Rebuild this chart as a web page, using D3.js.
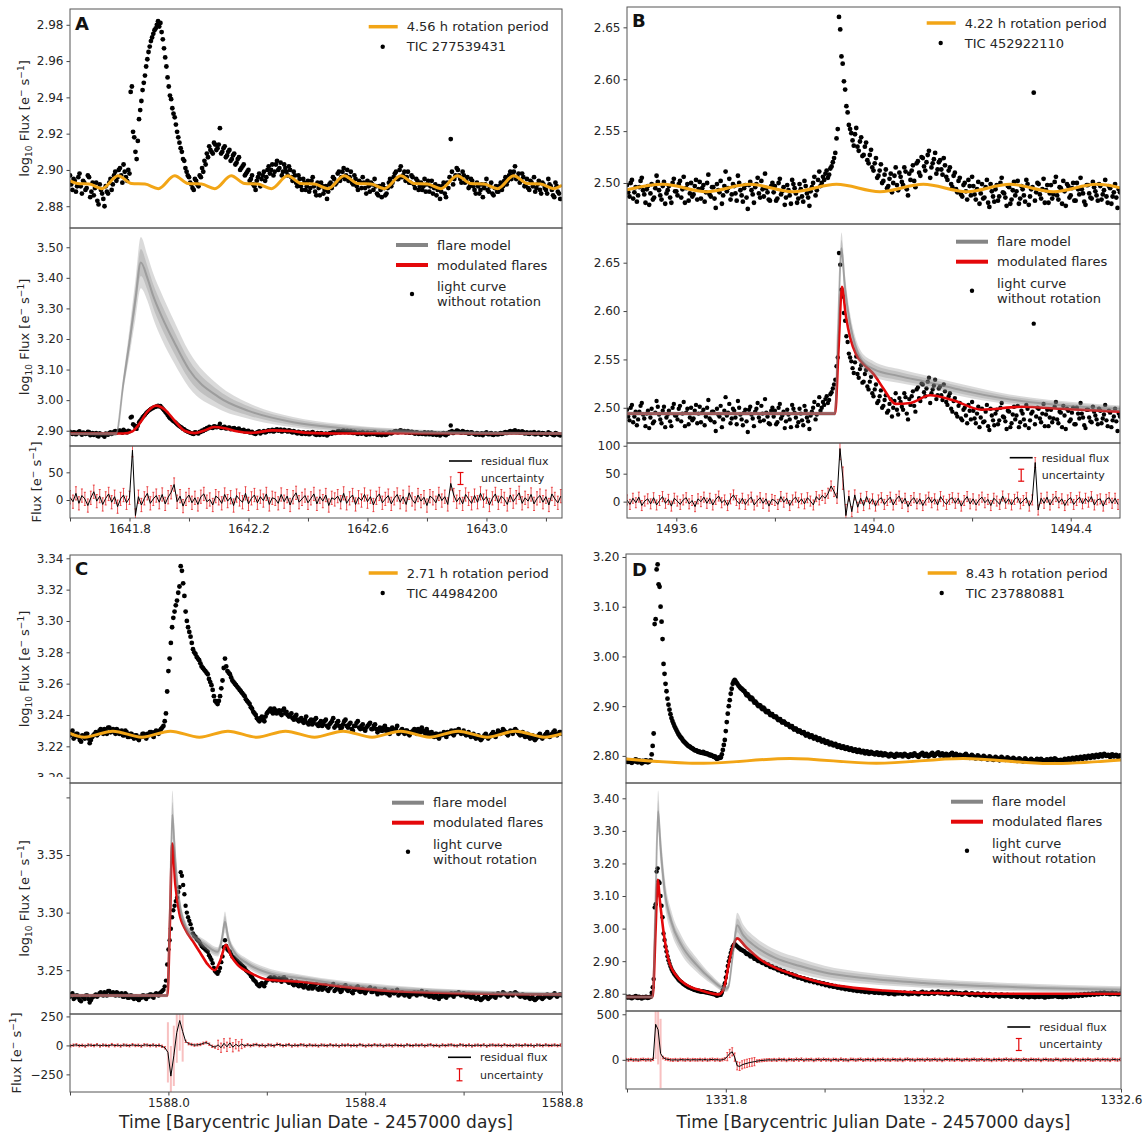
<!DOCTYPE html>
<html>
<head>
<meta charset="utf-8">
<script src="https://cdn.jsdelivr.net/npm/d3@7"></script>
<style>
  body { margin: 0; background: #fff; }
  svg text { font-family: "DejaVu Sans", Verdana, sans-serif; fill: #262626; }
  .tick text { font-size: 12px; }
  .leg { font-size: 13px; }
  .legs { font-size: 11px; }
  .ylab { font-size: 13px; }
</style>
</head>
<body>
<script>
var W = 1146, H = 1135;
var ORANGE = "#f2a516", RED = "#e4080a", GRAY = "#858585";

var letters = ["A", "B", "C", "D"];
var periods = ["4.56", "4.22", "2.71", "8.43"];
var tics = ["277539431", "452922110", "44984200", "237880881"];

// ---------- A : TIC 277539431 ----------
var t0A = 1641.600, cadA = 0.008;
var fluxA = [
  2.897, 2.889, 2.894, 2.891, 2.898, 2.887, 2.893, 2.890, 2.896, 2.888,
  2.886, 2.893, 2.881, 2.889, 2.884, 2.891, 2.887, 2.895, 2.892, 2.899,
  2.896, 2.901, 2.893, 2.899, 2.894, 2.898, 2.946, 2.918, 2.906, 2.928,
  2.938, 2.948, 2.957, 2.965, 2.971, 2.975, 2.978, 2.982, 2.981, 2.972,
  2.962, 2.951, 2.941, 2.934, 2.929, 2.921, 2.915, 2.910, 2.905, 2.899,
  2.896, 2.892, 2.889, 2.894, 2.891, 2.896, 2.899, 2.903, 2.907, 2.911,
  2.909, 2.914, 2.912, 2.923, 2.910, 2.913, 2.908, 2.911, 2.906, 2.909,
  2.904, 2.907, 2.901, 2.903, 2.898, 2.900, 2.895, 2.892, 2.889, 2.896,
  2.891, 2.897, 2.894, 2.900, 2.898, 2.903, 2.899, 2.905, 2.901, 2.897,
  2.903, 2.899, 2.902, 2.896, 2.899, 2.893, 2.897, 2.891, 2.895, 2.889,
  2.894, 2.890, 2.896, 2.888, 2.893, 2.886, 2.891, 2.889, 2.884, 2.892,
  2.890, 2.895, 2.893, 2.899, 2.896, 2.901, 2.897, 2.894, 2.899, 2.892,
  2.895, 2.889, 2.893, 2.896, 2.890, 2.894, 2.888, 2.892, 2.895, 2.887,
  2.891, 2.885, 2.890, 2.887, 2.893, 2.891, 2.896, 2.899, 2.895, 2.902,
  2.897, 2.894, 2.899, 2.893, 2.896, 2.890, 2.894, 2.891, 2.889, 2.895,
  2.892, 2.888, 2.894, 2.890, 2.886, 2.891, 2.888, 2.893, 2.885, 2.890,
  2.917, 2.892, 2.897, 2.900, 2.895, 2.899, 2.893, 2.896, 2.891, 2.894,
  2.889, 2.893, 2.887, 2.892, 2.890, 2.895, 2.888, 2.893, 2.886, 2.891,
  2.888, 2.893, 2.891, 2.896, 2.894, 2.899, 2.897, 2.902, 2.896, 2.893,
  2.898, 2.891, 2.895, 2.889, 2.893, 2.896, 2.890, 2.894, 2.887, 2.892,
  2.889, 2.895, 2.891, 2.886, 2.893, 2.888, 2.884
];
// readings in between, half a cadence later
var t0A2 = 1641.604;
var fluxA2 = [
  2.892, 2.895, 2.888, 2.896, 2.891, 2.894, 2.889, 2.897, 2.885, 2.893,
  2.890, 2.883, 2.892, 2.887, 2.880, 2.888, 2.893, 2.889, 2.897, 2.894,
  2.900, 2.897, 2.903, 2.896, 2.900, 2.943, 2.921, 2.910, 2.916, 2.933,
  2.944, 2.952, 2.961, 2.968, 2.973, 2.977, 2.980, 2.979, 2.976, 2.967,
  2.957, 2.946, 2.939, 2.931, 2.925, 2.918, 2.912, 2.906, 2.901, 2.897,
  2.893, 2.890, 2.895, 2.892, 2.897, 2.901, 2.905, 2.909, 2.913, 2.910,
  2.915, 2.911, 2.914, 2.909, 2.912, 2.907, 2.910, 2.905, 2.908, 2.903,
  2.906, 2.900, 2.902, 2.897, 2.899, 2.894, 2.897, 2.891, 2.894, 2.898,
  2.895, 2.899, 2.896, 2.902, 2.900, 2.897, 2.903, 2.900, 2.904, 2.899,
  2.901, 2.897, 2.900, 2.894, 2.897, 2.891, 2.895, 2.889, 2.893, 2.891,
  2.888, 2.894, 2.891, 2.886, 2.890, 2.893, 2.887, 2.891, 2.888, 2.893,
  2.896, 2.892, 2.898, 2.894, 2.899, 2.895, 2.900, 2.896, 2.893, 2.897,
  2.891, 2.894, 2.890, 2.893, 2.887, 2.891, 2.893, 2.889, 2.891, 2.886,
  2.889, 2.892, 2.886, 2.890, 2.895, 2.893, 2.898, 2.895, 2.900, 2.896,
  2.899, 2.896, 2.893, 2.897, 2.892, 2.895, 2.889, 2.893, 2.891, 2.888,
  2.894, 2.891, 2.887, 2.892, 2.889, 2.884, 2.891, 2.887, 2.893, 2.896,
  2.899, 2.895, 2.901, 2.897, 2.893, 2.897, 2.894, 2.890, 2.895, 2.891,
  2.887, 2.891, 2.889, 2.885, 2.892, 2.889, 2.891, 2.887, 2.890, 2.888,
  2.891, 2.889, 2.894, 2.892, 2.897, 2.895, 2.899, 2.895, 2.898, 2.894,
  2.896, 2.892, 2.890, 2.894, 2.891, 2.888, 2.892, 2.889, 2.893, 2.890,
  2.887, 2.892, 2.889, 2.885, 2.891, 2.887
];
var orangeTA = [1641.600, 1641.625, 1641.665, 1641.707, 1641.762, 1641.807, 1641.852, 1641.897,
  1641.952, 1641.997, 1642.042, 1642.087, 1642.142, 1642.187, 1642.232, 1642.277,
  1642.332, 1642.377, 1642.422, 1642.467, 1642.522, 1642.567, 1642.612, 1642.657,
  1642.712, 1642.757, 1642.802, 1642.847, 1642.902, 1642.947, 1642.992, 1643.037,
  1643.092, 1643.137, 1643.182, 1643.227, 1643.254];
var orangeA = [2.8940, 2.8925, 2.8922, 2.8897, 2.8968, 2.8925, 2.8922, 2.8897,
  2.8968, 2.8925, 2.8922, 2.8897, 2.8968, 2.8925, 2.8922, 2.8897,
  2.8968, 2.8925, 2.8922, 2.8897, 2.8968, 2.8925, 2.8922, 2.8897,
  2.8968, 2.8925, 2.8922, 2.8897, 2.8968, 2.8925, 2.8922, 2.8897,
  2.8968, 2.8925, 2.8922, 2.8897, 2.8915];
var grayTA = [1641.60, 1641.755, 1641.78, 1641.80, 1641.82, 1641.838, 1641.86, 1641.88, 1641.91,
  1641.95, 1642.00, 1642.10, 1642.20, 1642.35, 1642.50, 1642.70, 1642.90, 1643.254];
var grayA = [2.890, 2.890, 3.06, 3.19, 3.33, 3.45, 3.40, 3.34, 3.27,
  3.19, 3.10, 3.01, 2.965, 2.928, 2.910, 2.898, 2.893, 2.891];
var grayWA = [0.0005, 0.003, 0.02, 0.04, 0.06, 0.08, 0.07, 0.07, 0.07,
  0.065, 0.055, 0.035, 0.022, 0.013, 0.009, 0.005, 0.002, 0.001];
var redTA = [1641.60, 1641.78, 1641.81, 1641.835, 1641.86, 1641.89, 1641.92, 1641.95, 1641.985,
  1642.02, 1642.05, 1642.085, 1642.12, 1642.16, 1642.21, 1642.28, 1642.34, 1642.40,
  1642.50, 1642.70, 1643.00, 1643.254];
var redA = [2.891, 2.891, 2.898, 2.925, 2.962, 2.982, 2.968, 2.935, 2.900,
  2.892, 2.900, 2.912, 2.908, 2.898, 2.893, 2.901, 2.899, 2.893,
  2.891, 2.892, 2.891, 2.891];
var resT0A = 1641.60, resCadA = 0.01, errA = 12;
var residA = [
  5, -3, 12, -6, 8, 2, -10, 4, 15, -2,
  7, -8, 3, 11, -4, 6, -12, 2, 9, -5,
  4, 90, -28, 6, -9, 3, 12, -6, 2, 8,
  -4, 10, -7, 5, 14, 28, -3, 7, -11, 2,
  9, -5, 4, -8, 6, 11, -3, 1, -9, 7,
  3, -6, 10, -2, 5, -10, 8, 1, -4, 12,
  -7, 3, 9, -5, 6, -1, 11, -8, 4, 2,
  -6, 10, -3, 7, -9, 5, 13, -4, 2, 8,
  -5, 3, 11, -7, 6, -2, 9, -10, 4, 1,
  7, -4, 12, -6, 3, 9, -8, 5, -1, 10,
  -3, 6, -9, 4, 11, -5, 2, 8, -7, 3,
  10, -4, 6, -8, 13, 1, -6, 9, -2, 5,
  -10, 7, 3, -5, 11, -1, 6, -8, 30, 9,
  -3, 5, -7, 10, 2, -6, 8, -4, 12, -1,
  6, -9, 3, 11, -5, 7, 2, -8, 9, -3,
  5, 13, -6, 4, -2, 10, -7, 3, 8, -4,
  6, -9, 11, 2, -5, 7
];
var errSpansA = [];

// ---------- B : TIC 452922110 ----------
var t0B = 1493.500, cadB = 0.005;
var fluxB = [
  2.498, 2.487, 2.503, 2.491, 2.482, 2.496, 2.505, 2.489, 2.494, 2.479,
  2.499, 2.486, 2.507, 2.493, 2.484, 2.501, 2.490, 2.497, 2.481, 2.504,
  2.492, 2.499, 2.486, 2.506, 2.495, 2.483, 2.500, 2.489, 2.503, 2.494,
  2.485, 2.498, 2.491, 2.508, 2.487, 2.496, 2.476, 2.493, 2.502, 2.488,
  2.511, 2.495, 2.484, 2.499, 2.490, 2.507, 2.493, 2.482, 2.498, 2.475,
  2.501, 2.489, 2.496, 2.505, 2.486, 2.494, 2.509, 2.491, 2.483, 2.500,
  2.497, 2.485, 2.504, 2.492, 2.479, 2.498, 2.488, 2.503, 2.495, 2.481,
  2.499, 2.487, 2.502, 2.490, 2.478, 2.496, 2.506, 2.493, 2.511, 2.500,
  2.503, 2.512, 2.508, 2.516, 2.524, 2.543, 2.660, 2.622, 2.598, 2.574,
  2.556, 2.548, 2.536, 2.553, 2.531, 2.544, 2.527, 2.539, 2.519, 2.532,
  2.512, 2.524, 2.507, 2.518, 2.502, 2.513, 2.497, 2.509, 2.500, 2.515,
  2.493, 2.506, 2.498, 2.511, 2.488, 2.503, 2.517, 2.496, 2.521, 2.507,
  2.524, 2.512, 2.527, 2.505, 2.519, 2.529, 2.513, 2.522, 2.508, 2.517,
  2.503, 2.515, 2.496, 2.510, 2.491, 2.505, 2.487, 2.500, 2.484, 2.497,
  2.506, 2.489, 2.494, 2.480, 2.499, 2.486, 2.503, 2.477, 2.492, 2.482,
  2.498, 2.487, 2.505, 2.490, 2.478, 2.496, 2.484, 2.501, 2.492, 2.480,
  2.497, 2.488, 2.503, 2.479, 2.494, 2.587, 2.491, 2.499, 2.485, 2.504,
  2.493, 2.481, 2.498, 2.489, 2.506, 2.484, 2.495, 2.502, 2.478, 2.497,
  2.488, 2.500, 2.483, 2.494, 2.505, 2.490, 2.479, 2.498, 2.486, 2.501,
  2.492, 2.483, 2.497, 2.489, 2.503, 2.481, 2.495, 2.487, 2.499, 2.476, 2.491
];
var t0B2 = 1493.5025;
var fluxB2 = [
  2.491, 2.500, 2.485, 2.496, 2.488, 2.502, 2.493, 2.481, 2.497, 2.490,
  2.484, 2.495, 2.501, 2.488, 2.497, 2.480, 2.493, 2.486, 2.500, 2.492,
  2.488, 2.502, 2.494, 2.481, 2.499, 2.490, 2.487, 2.497, 2.484, 2.501,
  2.495, 2.482, 2.500, 2.489, 2.496, 2.485, 2.499, 2.491, 2.480, 2.497,
  2.492, 2.504, 2.489, 2.497, 2.483, 2.500, 2.488, 2.495, 2.486, 2.498,
  2.493, 2.481, 2.499, 2.490, 2.502, 2.487, 2.495, 2.484, 2.497, 2.491,
  2.483, 2.500, 2.489, 2.496, 2.486, 2.493, 2.480, 2.499, 2.490, 2.485,
  2.494, 2.482, 2.497, 2.486, 2.492, 2.500, 2.488, 2.503, 2.497, 2.506,
  2.509, 2.505, 2.514, 2.520, 2.529, 2.552, 2.648, 2.615, 2.590, 2.568,
  2.552, 2.541, 2.547, 2.535, 2.540, 2.526, 2.535, 2.522, 2.527, 2.515,
  2.519, 2.505, 2.512, 2.500, 2.508, 2.495, 2.504, 2.491, 2.507, 2.498,
  2.510, 2.501, 2.515, 2.494, 2.509, 2.512, 2.502, 2.519, 2.510, 2.525,
  2.516, 2.520, 2.531, 2.515, 2.523, 2.509, 2.520, 2.513, 2.524, 2.506,
  2.512, 2.499, 2.507, 2.494, 2.502, 2.489, 2.498, 2.492, 2.503, 2.488,
  2.497, 2.484, 2.501, 2.490, 2.485, 2.496, 2.481, 2.499, 2.487, 2.494,
  2.483, 2.500, 2.491, 2.486, 2.497, 2.480, 2.493, 2.488, 2.502, 2.485,
  2.494, 2.482, 2.499, 2.487, 2.496, 2.483, 2.500, 2.489, 2.494, 2.481,
  2.498, 2.490, 2.485, 2.501, 2.488, 2.496, 2.480, 2.492, 2.499, 2.486,
  2.495, 2.483, 2.500, 2.489, 2.494, 2.482, 2.498, 2.490, 2.485, 2.496,
  2.488, 2.499, 2.484, 2.493, 2.487, 2.497, 2.480, 2.491, 2.486, 2.494
];
var orangeTB = [1493.50, 1493.573, 1493.661, 1493.749, 1493.837, 1493.925, 1494.013,
  1494.101, 1494.189, 1494.277, 1494.365, 1494.453, 1494.50];
var orangeB = [2.4935, 2.4987, 2.4916, 2.4987, 2.4916, 2.4987, 2.4916,
  2.4987, 2.4916, 2.4987, 2.4916, 2.4987, 2.4955];
var grayTB = [1493.50, 1493.922, 1493.928, 1493.935, 1493.942, 1493.952, 1493.962, 1493.975,
  1494.00, 1494.05, 1494.115, 1494.18, 1494.26, 1494.42, 1494.50];
var grayB = [2.494, 2.494, 2.580, 2.665, 2.625, 2.588, 2.566, 2.550,
  2.540, 2.533, 2.526, 2.518, 2.510, 2.501, 2.499];
var grayWB = [0.001, 0.001, 0.012, 0.015, 0.012, 0.010, 0.008, 0.007,
  0.007, 0.006, 0.005, 0.005, 0.004, 0.003, 0.002];
var redTB = [1493.50, 1493.922, 1493.929, 1493.936, 1493.944, 1493.953, 1493.965, 1493.98,
  1494.00, 1494.02, 1494.045, 1494.075, 1494.115, 1494.16, 1494.22, 1494.30, 1494.38, 1494.50];
var redB = [2.494, 2.494, 2.560, 2.625, 2.595, 2.572, 2.555, 2.545,
  2.535, 2.520, 2.504, 2.505, 2.513, 2.508, 2.498, 2.501, 2.499, 2.496];
var resT0B = 1493.50, resCadB = 0.006, errB = 9;
var residB = [
  3, -5, 6, -2, 8, -7, 1, 5, -4, 7,
  -6, 2, 9, -3, 4, -8, 6, 1, -5, 3,
  7, -4, 2, -9, 5, 0, 8, -3, 6, -6,
  4, 10, -2, 3, -7, 5, 12, 2, -4, 6,
  -5, 3, 8, -6, 1, 7, -3, 5, -8, 4,
  2, -5, 9, -1, 6, -7, 3, 8, -2, 5,
  -4, 7, 1, -6, 9, 3, 11, 6, 15, 28,
  18, 6, 95, 42, -25, 10, -18, 12, -10, 6,
  -7, 9, -4, 5, -8, 3, 7, -5, 2, 8,
  -6, 4, 10, -3, 6, -9, 2, 7, -4, 5,
  -7, 3, 8, -2, 5, -6, 9, 1, -5, 4,
  7, -3, 6, -8, 2, 9, -4, 5, -6, 3,
  8, -2, 4, -7, 6, 1, -5, 10, -3, 5,
  -6, 4, 8, -4, 2, 7, -8, 3, 70, -15,
  6, -3, 8, -6, 4, 9, -2, 5, -7, 3,
  7, -5, 2, 8, -4, 6, -1, 9, -6, 3,
  5, -8, 4, 7, -3, 6, -5
];
var errSpansB = [[1493.928, 1493.945, 20]];

// ---------- C : TIC 44984200 ----------
var t0C = 1587.795, cadC = 0.005;
var fluxC = [
  3.229, 3.227, 3.230, 3.226, 3.228, 3.224, 3.227, 3.225, 3.228, 3.222,
  3.226, 3.228, 3.227, 3.230, 3.229, 3.231, 3.228, 3.232, 3.230, 3.229,
  3.231, 3.228, 3.230, 3.227, 3.229, 3.226, 3.228, 3.225, 3.227, 3.224,
  3.226, 3.228, 3.225, 3.227, 3.229, 3.226, 3.230, 3.228, 3.231, 3.233,
  3.241, 3.268, 3.286, 3.302, 3.310, 3.318, 3.335, 3.324, 3.306, 3.296,
  3.290, 3.282, 3.279, 3.276, 3.273, 3.270, 3.268, 3.266, 3.261, 3.256,
  3.249, 3.247, 3.252, 3.262, 3.276, 3.268, 3.266, 3.262, 3.260, 3.258,
  3.256, 3.254, 3.252, 3.249, 3.247, 3.244, 3.241, 3.238, 3.236, 3.239,
  3.236, 3.241, 3.243, 3.242, 3.244, 3.241, 3.243, 3.240, 3.244, 3.242,
  3.239, 3.241, 3.237, 3.240, 3.236, 3.238, 3.235, 3.239, 3.234, 3.237,
  3.235, 3.238, 3.233, 3.236, 3.234, 3.237, 3.232, 3.235, 3.238, 3.233,
  3.236, 3.231, 3.234, 3.237, 3.232, 3.235, 3.230, 3.233, 3.236, 3.231,
  3.234, 3.230, 3.233, 3.235, 3.231, 3.234, 3.229, 3.232, 3.230, 3.233,
  3.231, 3.228, 3.232, 3.230, 3.233, 3.229, 3.231, 3.228, 3.230, 3.227,
  3.229, 3.231, 3.228, 3.230, 3.232, 3.229, 3.231, 3.227, 3.229, 3.226,
  3.228, 3.225, 3.227, 3.229, 3.226, 3.228, 3.230, 3.227, 3.229, 3.231,
  3.228, 3.230, 3.227, 3.229, 3.226, 3.228, 3.225, 3.227, 3.224, 3.226,
  3.228, 3.225, 3.227, 3.229, 3.226, 3.230, 3.228, 3.231, 3.229, 3.227,
  3.230, 3.228, 3.231, 3.229, 3.227, 3.229, 3.226, 3.228, 3.225, 3.227,
  3.224, 3.226, 3.228, 3.225, 3.227, 3.229, 3.226, 3.228, 3.230, 3.227,
  3.229, 3.228
];
var t0C2 = 1587.7975;
var fluxC2 = [
  3.227, 3.229, 3.225, 3.228, 3.226, 3.223, 3.226, 3.228, 3.225, 3.224,
  3.227, 3.229, 3.228, 3.231, 3.228, 3.230, 3.232, 3.229, 3.231, 3.228,
  3.230, 3.229, 3.227, 3.230, 3.226, 3.228, 3.226, 3.227, 3.225, 3.226,
  3.228, 3.226, 3.228, 3.229, 3.227, 3.229, 3.229, 3.230, 3.232, 3.236,
  3.255, 3.276, 3.296, 3.306, 3.313, 3.322, 3.332, 3.316, 3.300, 3.293,
  3.286, 3.280, 3.277, 3.275, 3.271, 3.269, 3.267, 3.263, 3.259, 3.252,
  3.248, 3.249, 3.257, 3.270, 3.271, 3.267, 3.264, 3.261, 3.259, 3.257,
  3.255, 3.253, 3.250, 3.248, 3.245, 3.242, 3.240, 3.237, 3.238, 3.237,
  3.239, 3.242, 3.244, 3.241, 3.243, 3.242, 3.241, 3.243, 3.241, 3.240,
  3.240, 3.238, 3.239, 3.237, 3.237, 3.236, 3.237, 3.235, 3.236, 3.234,
  3.237, 3.234, 3.235, 3.233, 3.236, 3.233, 3.234, 3.236, 3.232, 3.235,
  3.233, 3.232, 3.236, 3.233, 3.234, 3.231, 3.233, 3.235, 3.232, 3.233,
  3.231, 3.232, 3.234, 3.231, 3.233, 3.231, 3.231, 3.230, 3.232, 3.230,
  3.229, 3.231, 3.230, 3.231, 3.228, 3.230, 3.229, 3.230, 3.228, 3.229,
  3.230, 3.229, 3.231, 3.229, 3.230, 3.228, 3.229, 3.228, 3.227, 3.228,
  3.226, 3.228, 3.228, 3.227, 3.229, 3.229, 3.228, 3.230, 3.230, 3.229,
  3.229, 3.228, 3.228, 3.227, 3.227, 3.226, 3.226, 3.225, 3.225, 3.227,
  3.226, 3.226, 3.228, 3.227, 3.228, 3.229, 3.229, 3.230, 3.228, 3.229,
  3.229, 3.230, 3.230, 3.228, 3.228, 3.227, 3.227, 3.226, 3.226, 3.225,
  3.225, 3.227, 3.226, 3.226, 3.228, 3.227, 3.227, 3.229, 3.228, 3.228,
  3.229
];
var orangeTC = [1587.795, 1587.829, 1587.887, 1587.946, 1588.004, 1588.063, 1588.121, 1588.180,
  1588.238, 1588.297, 1588.355, 1588.414, 1588.472, 1588.531, 1588.589, 1588.648,
  1588.706, 1588.765, 1588.800];
var orangeC = [3.2290, 3.2258, 3.2297, 3.2258, 3.2297, 3.2258, 3.2297, 3.2258,
  3.2297, 3.2258, 3.2297, 3.2258, 3.2297, 3.2258, 3.2297, 3.2258,
  3.2297, 3.2258, 3.2280];
var grayTC = [1587.795, 1587.998, 1588.003, 1588.008, 1588.014, 1588.022, 1588.035, 1588.05,
  1588.075, 1588.10, 1588.108, 1588.115, 1588.122, 1588.135, 1588.16, 1588.20, 1588.27,
  1588.35, 1588.45, 1588.60, 1588.80];
var grayC = [3.228, 3.228, 3.300, 3.385, 3.345, 3.310, 3.288, 3.280,
  3.272, 3.266, 3.275, 3.292, 3.277, 3.265, 3.256, 3.248, 3.243,
  3.238, 3.234, 3.231, 3.229];
var grayWC = [0.0005, 0.0005, 0.015, 0.020, 0.015, 0.008, 0.004, 0.003,
  0.003, 0.003, 0.005, 0.008, 0.005, 0.003, 0.003, 0.003, 0.002,
  0.002, 0.002, 0.001, 0.001];
var redTC = [1587.795, 1587.998, 1588.003, 1588.008, 1588.014, 1588.022, 1588.035, 1588.05,
  1588.065, 1588.08, 1588.094, 1588.105, 1588.117, 1588.128, 1588.14, 1588.17, 1588.20,
  1588.27, 1588.35, 1588.45, 1588.60, 1588.80];
var redC = [3.228, 3.228, 3.290, 3.360, 3.325, 3.300, 3.285, 3.275,
  3.265, 3.255, 3.250, 3.258, 3.272, 3.262, 3.255, 3.247, 3.242,
  3.240, 3.236, 3.232, 3.230, 3.229];
var resT0C = 1587.795, resCadC = 0.006, errC = 10;
var residC = [
  3, -4, 2, 5, -3, 1, -6, 4, 2, -2, 6, -5, 3, 0, -4, 7, -2, 3, -5, 4,
  1, -3, 6, -1, 2, -6, 5, 3, -2, 4, -4, 2, -8, -20,
  -60, -265, -90, 110, 215, 120, 35, 15, 8, 2,
  5, 8, 18, 25, 10, -8, -15, 5, -20, 18, -12, 22, -16, 10, -8, 12,
  -5, 6, -3, 4, 8, -2, 3, -6, 5, 2, -4, 10, 5, -3, 2, 7, -5, 3, -2, 6,
  3, -4, 5, -1, 2, -5, 4, 1, -3, 6,
  -2, 3, -6, 4, 0, 5, -3, 2, -4, 7,
  1, -5, 3, -2, 6, -1, 4, -6, 2, 3,
  -4, 5, -2, 1, -5, 6, 0, -3, 4, -1,
  5, -4, 2, 6, -3, 1, -6, 4, -2, 3,
  5, -1, -4, 6, 2, -3, 4, -5, 1, 3,
  -2, 5, -6, 2, 4, -1, 3, -4, 6, -2,
  1, -5, 4, 2, -3, 5, -1, 3, -6, 4,
  2, -3, 5, -1, 0, 4, -2, 3
];
var errSpansC = [[1587.998, 1588.03, 260], [1588.10, 1588.15, 40]];

// ---------- D : TIC 237880881 ----------
var t0D = 1331.598, cadD = 0.004;
var fluxD = [
  2.792, 2.788, 2.791, 2.786, 2.789, 2.793, 2.787, 2.790, 2.785, 2.789,
  2.791, 2.787, 2.790, 2.803, 2.845, 3.075, 3.185, 3.140, 3.070, 2.985,
  2.945, 2.915, 2.893, 2.876, 2.865, 2.856, 2.848, 2.841, 2.836, 2.830,
  2.826, 2.822, 2.819, 2.816, 2.814, 2.811, 2.810, 2.809, 2.807, 2.808,
  2.806, 2.805, 2.803, 2.802, 2.800, 2.799, 2.794, 2.797, 2.797, 2.812,
  2.832, 2.868, 2.900, 2.925, 2.945, 2.953, 2.947, 2.941, 2.936, 2.933,
  2.930, 2.922, 2.921, 2.914, 2.915, 2.907, 2.906, 2.900, 2.901, 2.894,
  2.895, 2.888, 2.890, 2.882, 2.884, 2.878, 2.879, 2.872, 2.874, 2.867,
  2.869, 2.863, 2.864, 2.858, 2.860, 2.853, 2.855, 2.849, 2.851, 2.846,
  2.848, 2.841, 2.844, 2.838, 2.841, 2.835, 2.838, 2.832, 2.835, 2.829,
  2.832, 2.826, 2.829, 2.823, 2.826, 2.821, 2.824, 2.818, 2.821, 2.816,
  2.819, 2.814, 2.817, 2.812, 2.815, 2.810, 2.813, 2.808, 2.812, 2.807,
  2.810, 2.805, 2.809, 2.804, 2.808, 2.806, 2.803, 2.807, 2.802, 2.806,
  2.801, 2.805, 2.803, 2.799, 2.804, 2.802, 2.798, 2.804, 2.801, 2.803,
  2.799, 2.804, 2.801, 2.798, 2.803, 2.800, 2.805, 2.801, 2.798, 2.803,
  2.806, 2.800, 2.804, 2.799, 2.802, 2.806, 2.800, 2.804, 2.807, 2.801,
  2.805, 2.800, 2.804, 2.798, 2.803, 2.806, 2.800, 2.804, 2.799, 2.802,
  2.797, 2.801, 2.804, 2.799, 2.796, 2.802, 2.798, 2.795, 2.801, 2.797,
  2.794, 2.800, 2.796, 2.793, 2.799, 2.795, 2.792, 2.798, 2.795, 2.791,
  2.798, 2.794, 2.792, 2.797, 2.794, 2.791, 2.796, 2.793, 2.790, 2.795,
  2.792, 2.789, 2.795, 2.791, 2.789, 2.794, 2.791, 2.789, 2.794, 2.790,
  2.794, 2.791, 2.788, 2.793, 2.790, 2.794, 2.791, 2.795, 2.792, 2.790,
  2.792, 2.789, 2.794, 2.790, 2.795, 2.791, 2.796, 2.792, 2.797, 2.793,
  2.798, 2.794, 2.799, 2.795, 2.800, 2.796, 2.801, 2.797, 2.802, 2.798,
  2.803, 2.799, 2.804, 2.800, 2.802, 2.798, 2.803, 2.799, 2.802, 2.798, 2.801
];
var t0D2 = 1331.600;
var fluxD2 = [
  2.789, 2.791, 2.787, 2.790, 2.792, 2.788, 2.791, 2.787, 2.790, 2.788,
  2.790, 2.788, 2.791, 2.820, 3.065, 3.175, 3.145, 3.100, 3.035, 2.965,
  2.930, 2.903, 2.884, 2.870, 2.860, 2.852, 2.844, 2.838, 2.833, 2.828,
  2.824, 2.820, 2.818, 2.815, 2.812, 2.811, 2.808, 2.807, 2.806, 2.805,
  2.804, 2.803, 2.801, 2.800, 2.798, 2.796, 2.795, 2.796, 2.803, 2.822,
  2.850, 2.885, 2.912, 2.935, 2.950, 2.950, 2.944, 2.939, 2.935, 2.931,
  2.926, 2.924, 2.918, 2.917, 2.911, 2.909, 2.903, 2.902, 2.897, 2.897,
  2.891, 2.890, 2.886, 2.884, 2.880, 2.879, 2.875, 2.874, 2.870, 2.869,
  2.866, 2.864, 2.861, 2.860, 2.856, 2.855, 2.852, 2.851, 2.848, 2.847,
  2.844, 2.843, 2.841, 2.840, 2.838, 2.837, 2.835, 2.834, 2.832, 2.831,
  2.829, 2.828, 2.826, 2.826, 2.823, 2.823, 2.821, 2.820, 2.818, 2.818,
  2.816, 2.816, 2.814, 2.814, 2.812, 2.812, 2.810, 2.811, 2.809, 2.809,
  2.807, 2.808, 2.806, 2.807, 2.805, 2.804, 2.805, 2.804, 2.804, 2.803,
  2.803, 2.802, 2.801, 2.802, 2.801, 2.800, 2.802, 2.801, 2.802, 2.801,
  2.802, 2.802, 2.800, 2.801, 2.801, 2.803, 2.802, 2.800, 2.801, 2.804,
  2.803, 2.802, 2.801, 2.801, 2.804, 2.803, 2.802, 2.805, 2.804, 2.803,
  2.802, 2.802, 2.801, 2.801, 2.804, 2.803, 2.802, 2.801, 2.800, 2.800,
  2.799, 2.802, 2.801, 2.798, 2.799, 2.800, 2.796, 2.798, 2.799, 2.795,
  2.797, 2.798, 2.794, 2.796, 2.797, 2.793, 2.795, 2.796, 2.793, 2.794,
  2.796, 2.793, 2.793, 2.795, 2.792, 2.792, 2.794, 2.791, 2.792, 2.793,
  2.790, 2.792, 2.793, 2.790, 2.791, 2.792, 2.790, 2.791, 2.792, 2.791,
  2.792, 2.790, 2.791, 2.792, 2.791, 2.792, 2.793, 2.793, 2.791, 2.791,
  2.790, 2.791, 2.792, 2.793, 2.793, 2.794, 2.794, 2.795, 2.795, 2.796,
  2.796, 2.797, 2.797, 2.798, 2.798, 2.799, 2.799, 2.800, 2.800, 2.801,
  2.801, 2.802, 2.802, 2.801, 2.800, 2.801, 2.800, 2.801, 2.800, 2.799
];
var orangeTD = [1331.598, 1331.755, 1331.930, 1332.105, 1332.280, 1332.455, 1332.600];
var orangeD = [2.7940, 2.7850, 2.7950, 2.7850, 2.7950, 2.7845, 2.7920];
var grayTD = [1331.598, 1331.652, 1331.658, 1331.663, 1331.668, 1331.676, 1331.69, 1331.71,
  1331.74, 1331.77, 1331.80, 1331.805, 1331.815, 1331.823, 1331.835, 1331.86, 1331.90,
  1331.95, 1332.00, 1332.08, 1332.20, 1332.35, 1332.60];
var grayD = [2.790, 2.790, 3.10, 3.36, 3.25, 3.12, 3.02, 2.95,
  2.89, 2.845, 2.815, 2.82, 2.93, 3.01, 2.98, 2.945, 2.91,
  2.885, 2.865, 2.848, 2.833, 2.822, 2.812];
var grayWD = [0.001, 0.001, 0.04, 0.06, 0.05, 0.04, 0.03, 0.025,
  0.018, 0.010, 0.006, 0.006, 0.020, 0.035, 0.030, 0.025, 0.022,
  0.020, 0.017, 0.014, 0.011, 0.009, 0.007];
var redTD = [1331.598, 1331.652, 1331.658, 1331.662, 1331.667, 1331.674, 1331.684, 1331.70,
  1331.72, 1331.75, 1331.785, 1331.795, 1331.81, 1331.823, 1331.84, 1331.87, 1331.90,
  1331.95, 1332.00, 1332.06, 1332.12, 1332.20, 1332.35, 1332.60];
var redD = [2.790, 2.790, 3.00, 3.15, 3.08, 2.99, 2.905, 2.855,
  2.828, 2.810, 2.798, 2.812, 2.92, 2.970, 2.945, 2.905, 2.880,
  2.853, 2.832, 2.818, 2.810, 2.803, 2.800, 2.800];
var resT0D = 1331.598, resCadD = 0.005, errD = 14;
var residD = [
  3, -2, 4, -3, 1, -4, 2, 5, -1, 3, -2, 6,
  390, 330, 70, 25, 10, 5, 0, -3,
  2, -4, 3, 1, -2, 4, -3, 2, 0, -1,
  3, -2, 4, -3, 2, 5, -1, 3, -4, 2,
  10, 35, 70, 88, 30, -65, -72, -55, -45, -38,
  -30, -25, -20, -14, -10, -7, -4, -2, 1, -3,
  2, -4, 5, -1, 3, -6, 4, 1, -3, 6,
  -2, 7, -5, 3, 0, 4, -6, 2, 5, -3,
  6, -1, 3, -5, 4, 2, -4, 7, -2, 1,
  -6, 5, 3, -3, 2, 6, -4, 1, 4, -2,
  5, -5, 3, 0, 6, -3, 2, -4, 5, 1,
  -2, 4, -6, 3, 7, -1, 2, -5, 4, 0,
  3, -4, 6, -2, 1, 5, -3, 4, -6, 2,
  6, -1, 3, -4, 5, 2, -5, 1, 4, -3,
  2, 6, -2, 0, 5, -4, 3, 1, -6, 4,
  -1, 5, -3, 2, 7, -2, 4, -5, 3, 1,
  -4, 6, 0, -3, 5, 2, -1, 4, -6, 3,
  5, -2, 1, -4, 6, 3, -5, 2, 4, -1,
  3, -6, 5, 1, -3, 4, -2, 6, 0, -4,
  2, 5, -3, 4, -1, 3, -5, 6, 2, -2,
  4
];
var errSpansD = [[1331.655, 1331.668, 380], [1331.80, 1331.86, 45]];

// ---------- layout ----------
var panels = [
  { x0: 70, x1: 562, rows: [9, 228, 446, 518], xDomain: [1641.60, 1643.254],
    xTicks: [1641.6, 1641.8, 1642.0, 1642.2, 1642.4, 1642.6, 1642.8, 1643.0, 1643.2],
    xLabels: ["1641.8", "1642.2", "1642.6", "1643.0"],
    topDomain: [2.868, 2.9887], topTicks: [2.88, 2.90, 2.92, 2.94, 2.96, 2.98],
    midDomain: [2.85, 3.563], midTicks: [2.90, 3.00, 3.10, 3.20, 3.30, 3.40, 3.50], midLabels: null,
    resDomain: [-32.5, 97.6], resTicks: [0, 50],
    series: [[t0A, cadA, fluxA], [t0A2, cadA, fluxA2]],
    oT: orangeTA, oV: orangeA, gT: grayTA, gV: grayA, gW: grayWA,
    rT: redTA, rV: redA, resT0: resT0A, resCad: resCadA, resid: residA, err: errA, spans: errSpansA,
    ylabel: true, resLabX: 36, logLabX: 24, legTop: [406.7, 26.7], legMid: [437, 245], legRes: [481, 461],
    letterPos: [75, 30], xlabel: false },
  { x0: 627, x1: 1120, rows: [7, 224, 443, 518], xDomain: [1493.5, 1494.5],
    xTicks: [1493.6, 1493.8, 1494.0, 1494.2, 1494.4],
    xLabels: ["1493.6", "1494.0", "1494.4"],
    topDomain: [2.4605, 2.6696], topTicks: [2.50, 2.55, 2.60, 2.65],
    midDomain: [2.4636, 2.690], midTicks: [2.50, 2.55, 2.60, 2.65], midLabels: null,
    resDomain: [-29.3, 104.9], resTicks: [0, 50, 100],
    series: [[t0B, cadB, fluxB], [t0B2, cadB, fluxB2]],
    oT: orangeTB, oV: orangeB, gT: grayTB, gV: grayB, gW: grayWB,
    rT: redTB, rV: redB, resT0: resT0B, resCad: resCadB, resid: residB, err: errB, spans: errSpansB,
    ylabel: false, legTop: [964.7, 23], legMid: [997, 241.7], legRes: [1041.7, 457.7],
    letterPos: [632, 27], xlabel: false },
  { x0: 70, x1: 562, rows: [555, 783, 1014, 1092], xDomain: [1587.8, 1588.8],
    xTicks: [1587.8, 1588.0, 1588.2, 1588.4, 1588.6, 1588.8],
    xLabels: ["1588.0", "1588.4", "1588.8"],
    topDomain: [3.1966, 3.3421], topTicks: [3.20, 3.22, 3.24, 3.26, 3.28, 3.30, 3.32, 3.34],
    midDomain: [3.212, 3.4125], midTicks: [3.25, 3.30, 3.35, 3.40], midLabels: ["3.25", "3.30", "3.35"],
    resDomain: [-402, 271], resTicks: [-250, 0, 250],
    series: [[t0C, cadC, fluxC], [t0C2, cadC, fluxC2]],
    oT: orangeTC, oV: orangeC, gT: grayTC, gV: grayC, gW: grayWC,
    rT: redTC, rV: redC, resT0: resT0C, resCad: resCadC, resid: residC, err: errC, spans: errSpansC,
    ylabel: true, resLabX: 16, logLabX: 24, legTop: [406.7, 573], legMid: [433, 802.7], legRes: [480, 1057.3],
    letterPos: [75, 575], xlabel: true, cutLabel: 777 },
  { x0: 626, x1: 1121, rows: [554, 783, 1011, 1089], xDomain: [1331.598, 1332.6],
    xTicks: [1331.6, 1331.8, 1332.0, 1332.2, 1332.4, 1332.6],
    xLabels: ["1331.8", "1332.2", "1332.6"],
    topDomain: [2.7455, 3.206], topTicks: [2.80, 2.90, 3.00, 3.10, 3.20],
    midDomain: [2.747, 3.447], midTicks: [2.80, 2.90, 3.00, 3.10, 3.20, 3.30, 3.40], midLabels: null,
    resDomain: [-320, 536], resTicks: [0, 500],
    series: [[t0D, cadD, fluxD], [t0D2, cadD, fluxD2]],
    oT: orangeTD, oV: orangeD, gT: grayTD, gV: grayD, gW: grayWD,
    rT: redTD, rV: redD, resT0: resT0D, resCad: resCadD, resid: residD, err: errD, spans: errSpansD,
    ylabel: false, legTop: [965.7, 573], legMid: [992, 801.7], legRes: [1039.3, 1027],
    letterPos: [632, 576], xlabel: true }
];

var svg = d3.select("body").append("svg")
    .attr("width", W)
    .attr("height", H)
    .style("background", "#fff");

// label pieces: [text, shift] with shift 0 = normal, "sub", "sup"
var LOGLAB = [["log", 0], ["10", "sub"], [" Flux [e", 0], ["\u2212", "sup"], [" s", 0], ["\u22121", "sup"], ["]", 0]];
var RESLAB = [["Flux [e", 0], ["\u2212", "sup"], [" s", 0], ["\u22121", "sup"], ["]", 0]];

function richLabel(t, parts) {
  var shift = 0;
  parts.forEach(function(pc) {
    var target = pc[1] === "sub" ? 3.5 : pc[1] === "sup" ? -5 : 0;
    var ts = t.append("tspan").attr("dy", target - shift).text(pc[0]);
    if (pc[1]) ts.style("font-size", "9px");
    shift = target;
  });
}

function yAxis(g, x0, y, ticks, fmt, labels) {
  var ax = g.append("g")
      .attr("transform", "translate(" + x0 + ",0)")
      .call(d3.axisLeft(y).tickValues(ticks).tickSize(3.5).tickPadding(3)
        .tickFormat(function(d) {
          var s = fmt(d);
          if (labels && labels.indexOf(s) < 0) return "";
          return s;
        }));
  ax.select(".domain").remove();
  ax.selectAll(".tick line").attr("stroke", "#444");
  return ax;
}

function frame(g, x0, x1, y0, y1) {
  g.append("rect")
      .attr("x", x0).attr("y", y0)
      .attr("width", x1 - x0).attr("height", y1 - y0)
      .attr("fill", "none")
      .attr("stroke", "#555")
      .attr("stroke-width", 1);
}

function clip(id, x0, x1, y0, y1) {
  svg.append("clipPath").attr("id", id)
    .append("rect").attr("x", x0).attr("y", y0).attr("width", x1 - x0).attr("height", y1 - y0);
}

panels.forEach(function(p, k) {
  var g = svg.append("g");
  var x = d3.scaleLinear().domain(p.xDomain).range([p.x0, p.x1]);
  var r = p.rows;
  var yTop = d3.scaleLinear().domain(p.topDomain).range([r[1], r[0]]);
  var yMid = d3.scaleLinear().domain(p.midDomain).range([r[2], r[1]]);
  var yRes = d3.scaleLinear().domain(p.resDomain).range([r[3], r[2]]);

  var pts = [];
  p.series.forEach(function(s) {
    s[2].forEach(function(v, i) { pts.push([s[0] + i * s[1], v]); });
  });
  var orange = d3.zip(p.oT, p.oV);
  var gray = d3.zip(p.gT, p.gV, p.gW);
  var red = d3.zip(p.rT, p.rV);
  var res = p.resid.map(function(v, i) { return [p.resT0 + i * p.resCad, v]; });

  ["top", "mid", "res"].forEach(function(s, j) {
    clip("clip" + k + s, p.x0, p.x1, r[j], r[j + 1]);
  });

  // ----- top: light curve with rotation model -----
  var gt = g.append("g").attr("clip-path", "url(#clip" + k + "top)");
  gt.selectAll("circle").data(pts).enter().append("circle")
      .attr("cx", function(d) { return x(d[0]); })
      .attr("cy", function(d) { return yTop(d[1]); })
      .attr("r", 2.4)
      .attr("fill", "#000");
  gt.append("path")
      .attr("d", d3.line().curve(d3.curveMonotoneX)
        .x(function(d) { return x(d[0]); })
        .y(function(d) { return yTop(d[1]); })(orange))
      .attr("fill", "none")
      .attr("stroke", ORANGE)
      .attr("stroke-width", 3);

  // ----- middle: flare model and modulated flares -----
  var gm = g.append("g").attr("clip-path", "url(#clip" + k + "mid)");
  gm.selectAll("circle").data(pts).enter().append("circle")
      .attr("cx", function(d) { return x(d[0]); })
      .attr("cy", function(d) { return yMid(d[1]); })
      .attr("r", 2.2)
      .attr("fill", "#000");
  gm.append("path")
      .attr("d", d3.line().curve(d3.curveMonotoneX)
        .x(function(d) { return x(d[0]); })
        .y(function(d) { return yMid(d[1]); })(red))
      .attr("fill", "none")
      .attr("stroke", RED)
      .attr("stroke-width", 2.6);
  [1, 0.5].forEach(function(f) {
    gm.append("path")
        .attr("d", d3.area().curve(d3.curveMonotoneX)
          .x(function(d) { return x(d[0]); })
          .y0(function(d) { return yMid(d[1] - d[2] * f) + 1.2; })
          .y1(function(d) { return yMid(d[1] + d[2] * f) - 1.2; })(gray))
        .attr("fill", GRAY)
        .attr("opacity", 0.3);
  });
  gm.append("path")
      .attr("d", d3.line().curve(d3.curveMonotoneX)
        .x(function(d) { return x(d[0]); })
        .y(function(d) { return yMid(d[1]); })(gray))
      .attr("fill", "none")
      .attr("stroke", "#7a7a7a")
      .attr("stroke-width", 2)
      .attr("opacity", 0.5);

  // ----- residuals -----
  var gr = g.append("g").attr("clip-path", "url(#clip" + k + "res)");
  res.forEach(function(d) {
    var e = p.err;
    p.spans.forEach(function(s) { if (d[0] >= s[0] && d[0] <= s[1]) e = s[2]; });
    var big = e > 100;
    gr.append("line")
        .attr("x1", x(d[0])).attr("x2", x(d[0]))
        .attr("y1", yRes(d[1] - e)).attr("y2", yRes(d[1] + e))
        .attr("stroke", RED)
        .attr("stroke-width", big ? 2 : 0.9)
        .attr("opacity", big ? 0.25 : 0.75);
    if (!big) {
      [d[1] - e, d[1] + e].forEach(function(c) {
        gr.append("line")
            .attr("x1", x(d[0]) - 1).attr("x2", x(d[0]) + 1)
            .attr("y1", yRes(c)).attr("y2", yRes(c))
            .attr("stroke", RED).attr("stroke-width", 0.9).attr("opacity", 0.75);
      });
    }
  });
  gr.append("path")
      .attr("d", d3.line()
        .x(function(d) { return x(d[0]); })
        .y(function(d) { return yRes(d[1]); })(res))
      .attr("fill", "none")
      .attr("stroke", "#000")
      .attr("stroke-width", 1);

  // ----- axes -----
  var f2 = d3.format(".2f");
  yAxis(g, p.x0, yTop, p.topTicks, f2, null);
  if (p.cutLabel) {
    g.append("rect").attr("x", 0).attr("y", p.cutLabel)
        .attr("width", p.x0 - 5).attr("height", r[1] - p.cutLabel + 1)
        .attr("fill", "#fff");
  }
  yAxis(g, p.x0, yMid, p.midTicks, f2, p.midLabels);
  yAxis(g, p.x0, yRes, p.resTicks, d3.format("d"), null);

  var xa = g.append("g")
      .attr("transform", "translate(0," + r[3] + ")")
      .call(d3.axisBottom(x).tickValues(p.xTicks).tickSize(3.5).tickPadding(3)
        .tickFormat(function(d) {
          var s = d3.format(".1f")(d);
          return p.xLabels.indexOf(s) >= 0 ? s : "";
        }));
  xa.select(".domain").remove();
  xa.selectAll(".tick line").attr("stroke", "#444");

  frame(g, p.x0, p.x1, r[0], r[1]);
  frame(g, p.x0, p.x1, r[1], r[2]);
  frame(g, p.x0, p.x1, r[2], r[3]);

  // ----- labels -----
  if (p.ylabel) {
    [[(r[0] + r[1]) / 2, LOGLAB, p.logLabX], [(r[1] + r[2]) / 2, LOGLAB, p.logLabX],
     [(r[2] + r[3]) / 2, RESLAB, p.resLabX]].forEach(function(l) {
      var t = g.append("text")
          .attr("class", "ylab")
          .attr("transform", "translate(" + (l[2] + 4.5) + "," + l[0] + ") rotate(-90)")
          .attr("text-anchor", "middle");
      richLabel(t, l[1]);
    });
  }
  if (p.xlabel) {
    g.append("text")
        .attr("x", (p.x0 + p.x1) / 2)
        .attr("y", 1128)
        .attr("text-anchor", "middle")
        .style("font-size", "17px")
        .text("Time [Barycentric Julian Date - 2457000 days]");
  }
  g.append("text")
      .attr("x", p.letterPos[0]).attr("y", p.letterPos[1])
      .style("font-size", "18px")
      .style("font-weight", "bold")
      .style("fill", "#111")
      .text(letters[k]);

  // ----- legends -----
  var lt = p.legTop;
  g.append("line")
      .attr("x1", lt[0] - 38).attr("x2", lt[0] - 9).attr("y1", lt[1]).attr("y2", lt[1])
      .attr("stroke", ORANGE).attr("stroke-width", 3.5);
  g.append("text").attr("class", "leg").attr("x", lt[0]).attr("y", lt[1]).attr("dy", "0.35em")
      .text(periods[k] + " h rotation period");
  g.append("circle").attr("cx", lt[0] - 24).attr("cy", lt[1] + 20).attr("r", 2.2).attr("fill", "#000");
  g.append("text").attr("class", "leg").attr("x", lt[0]).attr("y", lt[1] + 20).attr("dy", "0.35em")
      .text("TIC " + tics[k]);

  var lm = p.legMid;
  g.append("line")
      .attr("x1", lm[0] - 41).attr("x2", lm[0] - 9).attr("y1", lm[1]).attr("y2", lm[1])
      .attr("stroke", "#858585").attr("stroke-width", 4);
  g.append("text").attr("class", "leg").attr("x", lm[0]).attr("y", lm[1]).attr("dy", "0.35em")
      .text("flare model");
  g.append("line")
      .attr("x1", lm[0] - 41).attr("x2", lm[0] - 9).attr("y1", lm[1] + 20).attr("y2", lm[1] + 20)
      .attr("stroke", RED).attr("stroke-width", 4);
  g.append("text").attr("class", "leg").attr("x", lm[0]).attr("y", lm[1] + 20).attr("dy", "0.35em")
      .text("modulated flares");
  g.append("circle").attr("cx", lm[0] - 25).attr("cy", lm[1] + 49).attr("r", 2.2).attr("fill", "#000");
  g.append("text").attr("class", "leg").attr("x", lm[0]).attr("y", lm[1] + 41.5).attr("dy", "0.35em")
      .text("light curve");
  g.append("text").attr("class", "leg").attr("x", lm[0]).attr("y", lm[1] + 56.5).attr("dy", "0.35em")
      .text("without rotation");

  var lr = p.legRes;
  g.append("line")
      .attr("x1", lr[0] - 32).attr("x2", lr[0] - 9).attr("y1", lr[1]).attr("y2", lr[1])
      .attr("stroke", "#000").attr("stroke-width", 1.6);
  g.append("text").attr("class", "legs").attr("x", lr[0]).attr("y", lr[1]).attr("dy", "0.35em")
      .text("residual flux");
  var ix = lr[0] - 20.5, iy = lr[1] + 17.5;
  g.append("line").attr("x1", ix).attr("x2", ix).attr("y1", iy - 6).attr("y2", iy + 6)
      .attr("stroke", RED).attr("stroke-width", 1.2);
  [iy - 6, iy + 6].forEach(function(c) {
    g.append("line").attr("x1", ix - 3).attr("x2", ix + 3).attr("y1", c).attr("y2", c)
        .attr("stroke", RED).attr("stroke-width", 1.2);
  });
  g.append("text").attr("class", "legs").attr("x", lr[0]).attr("y", iy).attr("dy", "0.35em")
      .text("uncertainty");
});
</script>
</body>
</html>
